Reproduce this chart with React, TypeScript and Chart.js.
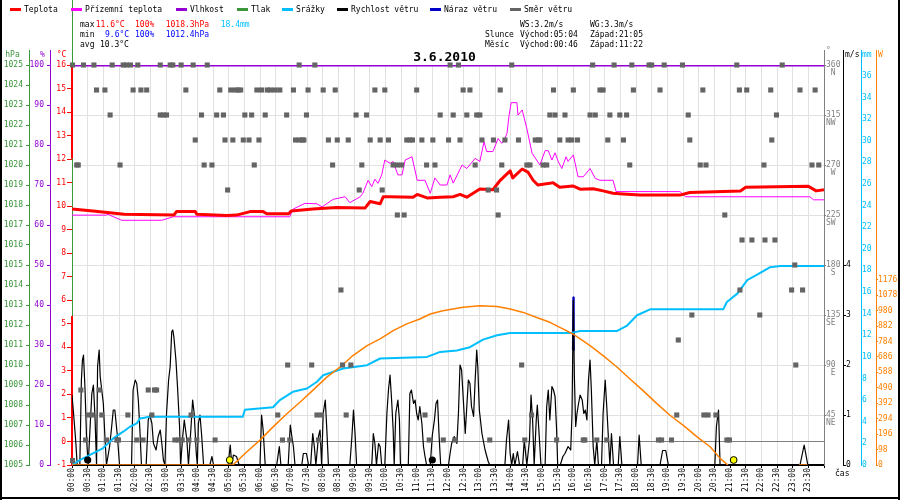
import React, { useEffect, useRef } from 'react';
import { Chart, registerables } from 'chart.js';

Chart.register(...registerables);

const FONT = '"DejaVu Sans Mono", monospace';
const RED = '#ff0000';
const MAGENTA = '#ff00ff';
const PURPLE = '#9400d3';
const GREEN = '#3c963c';
const SKY = '#00bfff';
const NAVY = '#0000c8';
const SQUARE = '#646464';
const AXISGRAY = '#808080';
const ORANGE = '#ff8000';
const MINBLUE = '#0000ff';
const GRID = '#e1e1e1';

// ---------- tick labels / categories ----------
const timeLabels = ['00:00','00:30','01:00','01:30','02:00','02:30','03:00','03:30','04:00','04:30','05:00','05:30','06:00','06:30','07:00','07:30','08:00','08:30','09:00','09:30','10:00','10:30','11:00','11:30','12:00','12:30','13:00','13:30','14:00','14:30','15:00','15:30','16:00','16:30','17:00','17:30','18:00','18:30','19:00','19:30','20:00','20:30','21:00','21:30','22:00','22:30','23:00','23:30'];
const dayEnd = 1440;
const tempTicks = [-1,0,1,2,3,4,5,6,7,8,9,10,11,12,13,14,15,16];
const humidityTicks = [0,10,20,30,40,50,60,70,80,90,100];
const pressureTicks = [1005,1006,1007,1008,1009,1010,1011,1012,1013,1014,1015,1016,1017,1018,1019,1020,1021,1022,1023,1024,1025];
const directionTicks = [45,90,135,180,225,270,315,360];
const directionNames = ['NE','E','SE','S','SW','W','NW','N'];
const speedTicks = [0,1,2,3,4];
const rainTicks = [0,2,4,6,8,10,12,14,16,18,20,22,24,26,28,30,32,34,36];
const solarTicks = [0,98,196,294,392,490,588,686,784,882,980,1078,1176];

const legendLabels = ['Teplota','Přízemní teplota','Vlhkost','Tlak','Srážky','Rychlost větru','Náraz větru','Směr větru'];
const chartTitle = '3.6.2010';
const statsMax = ['11.6°C','100%','1018.3hPa','18.4mm'];
const statsMin = ['9.6°C','100%','1012.4hPa'];
const statsAvg = '10.3°C';
const windInfo = ['WS:3.2m/s','WG:3.3m/s'];
const sunInfo = ['Východ:05:04','Západ:21:05'];
const moonInfo = ['Východ:00:46','Západ:11:22'];

// ---------- series (minute of day, value) ----------
const temperature = [[0,9.88],[40,9.8],[100,9.66],[195,9.62],[200,9.77],[236,9.77],[239,9.66],[296,9.6],[315,9.62],[341,9.77],[366,9.77],[373,9.68],[415,9.68],[420,9.8],[461,9.88],[507,9.94],[561,9.92],[571,10.2],[590,10.1],[596,10.4],[609,10.4],[653,10.38],[661,10.5],[680,10.35],[705,10.38],[730,10.4],[743,10.5],[756,10.38],[781,10.73],[806,10.7],[820,11.1],[839,11.5],[844,11.2],[862,11.58],[873,11.45],[883,11.1],[892,10.9],[915,10.97],[921,11.0],[934,10.8],[959,10.86],[973,10.72],[998,10.74],[1017,10.65],[1036,10.55],[1055,10.52],[1088,10.48],[1164,10.47],[1183,10.58],[1280,10.65],[1290,10.8],[1410,10.85],[1425,10.65],[1440,10.7]];

const apparentTemp = [[0,9.62],[66,9.62],[69,9.66],[72,9.62],[95,9.4],[172,9.4],[194,9.55],[417,9.55],[423,9.87],[446,10.12],[469,10.1],[479,9.97],[500,10.29],[523,10.4],[532,10.15],[552,10.4],[557,10.55],[567,11.1],[574,10.83],[580,11.15],[586,10.97],[593,11.33],[599,11.96],[609,11.82],[615,11.9],[624,11.33],[632,11.33],[638,11.96],[651,12.1],[661,11.1],[676,11.1],[686,10.55],[695,11.2],[705,10.9],[718,10.9],[724,11.33],[730,10.98],[747,11.75],[756,11.6],[772,12.03],[781,11.9],[789,12.74],[794,12.32],[806,12.32],[816,12.88],[823,12.67],[829,12.88],[833,13.1],[837,13.87],[841,14.4],[852,14.4],[854,13.87],[862,14.09],[871,13.3],[881,12.25],[896,11.75],[906,12.36],[912,12.36],[919,11.96],[925,12.27],[931,11.9],[938,11.6],[946,12.1],[950,11.9],[960,12.18],[969,11.25],[979,11.25],[992,11.6],[1002,11.18],[1011,11.1],[1036,11.1],[1042,10.62],[1164,10.62],[1175,10.4],[1413,10.4],[1420,10.27],[1440,10.27]];

const humidity = [[0,100],[360,100],[720,100],[1080,100],[1440,100]];

const rainfall = [[0,0],[15,0.46],[40,1.08],[59,1.54],[79,2.46],[98,3.08],[111,3.54],[124,3.85],[130,4.3],[149,4.46],[327,4.46],[331,5.1],[385,5.34],[398,6.0],[423,6.77],[450,7.08],[469,7.7],[481,8.3],[519,8.93],[565,9.23],[590,9.85],[680,10.0],[705,10.46],[737,10.6],[762,10.9],[787,11.6],[814,12.0],[839,12.2],[954,12.2],[973,12.4],[1044,12.4],[1063,12.9],[1082,13.85],[1107,14.4],[1247,14.4],[1254,15.08],[1274,15.85],[1293,17.1],[1312,17.6],[1337,18.3],[1356,18.4],[1440,18.4]];

const solar = [[0,0],[308,0],[335,84],[360,158],[385,242],[412,327],[437,400],[461,474],[488,558],[513,621],[538,695],[565,758],[590,801],[615,853],[641,896],[666,927],[686,959],[710,980],[749,1001],[781,1011],[814,1007],[839,990],[864,969],[890,937],[915,906],[940,864],[959,832],[992,758],[1017,695],[1044,621],[1068,548],[1093,474],[1120,390],[1145,316],[1170,253],[1197,179],[1222,116],[1241,42],[1256,0],[1300,null],[1392,0],[1408,0]];

const windSpeed = [[0,1.4],[3,1.03],[7,0.5],[10,0],[15,0],[18,1.7],[20,2.1],[22,2.2],[25,1.5],[28,0.5],[31,0],[35,0.83],[38,1.43],[41,1.6],[44,0.97],[47,0],[49,1.97],[52,2.3],[54,1.77],[57,1.5],[60,1.23],[63,0.57],[66,0],[72,0.37],[76,0.77],[79,1.1],[82,1.1],[87,0.57],[91,0],[114,0],[117,1.5],[121,1.7],[124,1.63],[127,1.3],[130,0.7],[133,0],[142,0],[146,0.9],[149,1.0],[153,0.83],[156,0.43],[161,0.3],[165,0.57],[169,0.7],[172,0.43],[175,0.1],[178,0],[181,1.03],[185,1.7],[188,1.97],[191,2.67],[193,2.7],[195,2.57],[199,2.1],[202,1.57],[206,0.77],[208,0],[212,0.57],[215,0.9],[220,0.5],[223,0],[228,0.77],[231,1.3],[234,1.03],[238,0.23],[240,0],[242,0.83],[245,1.0],[248,0.63],[252,0],[264,0],[268,0.17],[271,0],[299,0],[303,0.4],[306,0],[309,0.2],[315,0.17],[320,0],[360,0],[363,1.0],[366,0.7],[370,0],[392,0],[397,0.37],[400,0],[414,0],[418,0.8],[421,0.57],[424,0.37],[427,0],[440,0],[443,0.23],[449,0.23],[453,0],[457,0],[461,0.63],[464,0.37],[467,0],[472,0.57],[475,0.7],[478,0],[481,1.03],[485,1.3],[488,0.7],[491,0],[532,0],[536,0.57],[539,1.1],[542,0.63],[545,0],[574,0],[577,0.63],[580,0.43],[583,0],[587,0.43],[590,0.37],[593,0],[599,0],[603,1.03],[606,1.5],[609,1.8],[612,1.3],[615,0.7],[617,0],[620,1.03],[624,1.3],[627,0.9],[629,0],[644,0],[647,1.43],[650,1.5],[654,1.23],[657,1.3],[660,1.03],[663,0.9],[666,1.17],[670,0.83],[673,0.37],[676,0.17],[679,0],[686,0],[690,0.6],[694,0.9],[697,1.23],[700,1.3],[703,0.57],[706,0],[721,0],[724,0.23],[727,0.43],[732,0.57],[737,0.43],[740,1.03],[743,2.0],[746,1.9],[749,1.37],[753,0.63],[756,1.17],[759,1.7],[762,1.63],[765,1.17],[769,0.97],[772,1.7],[775,2.3],[777,1.97],[780,1.1],[785,0.63],[791,0.3],[797,0.07],[800,0],[829,0],[832,0.5],[836,0.9],[839,0.23],[842,0],[845,0.23],[848,0],[853,0.27],[857,0],[863,0],[866,0.5],[871,0],[876,0.5],[879,1.4],[882,0.9],[885,0],[889,0.9],[891,1.2],[894,0.7],[898,0],[906,0],[909,1.17],[912,1.5],[915,0.9],[919,1.57],[922,1.5],[925,1.37],[928,0.7],[930,0],[935,0],[940,0.17],[944,0.23],[950,0.37],[955,0.3],[957.5,1.03],[960,3.3],[962,1.77],[964.5,0.77],[967,1.03],[970,1.23],[973,1.4],[977,1.3],[980,1.03],[983,1.1],[986,0.9],[989,1.7],[992,2.1],[994.5,1.5],[998,0.37],[1001,0],[1005,0.5],[1008,0],[1014,0],[1017,1.03],[1021,1.7],[1024,1.17],[1027,0.57],[1030,0],[1033,0.63],[1037,0],[1046,0],[1049,0.57],[1053,0],[1083,0],[1086,0.6],[1090,0],[1126,0],[1131,0.29],[1137,0.29],[1142,0],[1231,0],[1234,0.77],[1238,1.1],[1241,0],[1394,0],[1402,0.4],[1409,0],[1440,0]];

const windGust = [[959.2,2.3],[960,3.35],[960.8,2.3]];

// wind direction: [degrees, minutes at which that direction was recorded]
const directionRows = [
  [360, [1,22,42,77,98,104,112,126,169,188,193,209,232,259,435,465,724,740,842,997,1038,1072,1105,1110,1134,1169,1273,1360]],
  [337.5, [47,63,117,132,143,218,283,304,313,318,323,354,363,374,380,389,398,424,452,481,504,580,599,660,749,762,820,922,960,1011,1017,1075,1126,1208,1278,1292,1338,1394,1423]],
  [315, [73,169,175,181,248,277,290,331,344,370,411,449,544,564,705,730,756,775,781,915,925,944,992,1002,1030,1049,1062,1180,1349]],
  [292.5, [236,293,308,328,339,358,428,435,441,444,491,508,529,571,590,606,641,647,652,670,691,721,743,785,807,829,855,887,893,896,934,950,957,968,1026,1056,1183,1340]],
  [270, [9,12,92,253,268,349,499,555,615,622,631,679,695,772,823,871,877,902,909,1068,1203,1214,1325,1417,1430]],
  [247.5, [298,550,594,797,813]],
  [225, [623,636,816,1250]],
  [202.5, [1283,1302,1327,1346]],
  [180, [1384]],
  [157.5, [515,1279,1378,1399]],
  [135, [1187,1317]],
  [112.5, [1161]],
  [90, [413,459,518,534,861,1386]],
  [67.5, [17,52,146,158,162]],
  [45, [31,38,57,107,153,228,394,469,478,525,676,880,1158,1210,1218,1233]],
  [22.5, [26,66,86,89,124,136,197,204,211,224,239,274,403,417,472,684,711,733,800,867,928,979,982,1005,1024,1123,1129,1148,1254,1259]],
  [4, [1]],
];

const sunEvents = [302, 1267];
const moonEvents = [30, 690];
const tempEdge = [[0,16],[0,12.05],[0,null],[0,5.3],[0,-1]];

// ---------- helpers ----------
const xy = (pts: any[]) => pts.map(([x, y]: any) => ({ x, y }));
const toMinutes = (s: string) => Number(s.slice(0, 2)) * 60 + Number(s.slice(3));
const tickFont = { family: FONT, size: 8 };
const setTicks = (vals: number[]) => (s: any) => { s.ticks = vals.map((v) => ({ value: v })); };
const fixWidth = (w: number) => (s: any) => { s.width = w; };

const decor = {
  id: 'decor',
  afterDraw(chart: any) {
    const { ctx, chartArea: ca, scales } = chart;
    const ap = (p: number) => Math.round(p - 0.5) + 0.5;
    ctx.save();
    const vline = (x: number, y0: number, y1: number, c: string) => {
      ctx.strokeStyle = c; ctx.lineWidth = 1; ctx.beginPath(); ctx.moveTo(x, y0); ctx.lineTo(x, y1); ctx.stroke();
    };
    vline(ap(scales.yP.right), 50, ca.top, GREEN);
    vline(ap(scales.yH.right), 50, ca.top, PURPLE);
    vline(ap(scales.yT.right), 0, ca.top, GREEN);
    vline(ap(scales.yD.left), 50, ca.top, AXISGRAY);
    vline(ap(scales.yW.left), 50, ca.top, '#000');
    vline(ap(scales.yM.left), 50, ca.top, SKY);
    vline(ap(scales.yS.left), 50, ca.top, ORANGE);

    const txt = (s: string, x: number, y: number, c: string, align = 'left', font = `8px ${FONT}`) => {
      ctx.font = font; ctx.fillStyle = c; ctx.textAlign = align; ctx.textBaseline = 'middle'; ctx.fillText(s, x, y);
    };
    // legend
    const legendX = [10, 71, 176, 237, 282, 337, 430, 510];
    const legendColors = [RED, MAGENTA, PURPLE, GREEN, SKY, '#000', NAVY, SQUARE];
    legendLabels.forEach((l, i) => {
      ctx.fillStyle = legendColors[i];
      ctx.fillRect(legendX[i], 8, 11, 3);
      txt(l, legendX[i] + 14, 9.5, '#000');
    });
    // stats
    txt('max', 80, 24.5, '#000');
    [95.7, 135, 165.7, 220.7].forEach((x, i) => txt(statsMax[i], x, 24.5, i === 3 ? SKY : RED));
    txt('min', 80, 34.5, '#000');
    [105, 135, 165.7].forEach((x, i) => txt(statsMin[i], x, 34.5, MINBLUE));
    txt('avg', 80, 44.5, '#000');
    txt(statsAvg, 100, 44.5, '#000');
    txt(windInfo[0], 520, 24.5, '#000');
    txt(windInfo[1], 590, 24.5, '#000');
    txt('Slunce', 485, 34.5, '#000');
    txt(sunInfo[0], 520, 34.5, '#000');
    txt(sunInfo[1], 590, 34.5, '#000');
    txt('Měsíc', 485, 44.5, '#000');
    txt(moonInfo[0], 520, 44.5, '#000');
    txt(moonInfo[1], 590, 44.5, '#000');
    // title
    txt(chartTitle, 444.5, 57.5, '#000', 'center', `bold 13px ${FONT}`);
    // axis titles
    txt('hPa', 12.5, 54.5, GREEN, 'center');
    txt('%', 42.5, 54.5, PURPLE, 'center');
    txt('°C', 61.5, 54.5, RED, 'center');
    txt('°', 826, 51, AXISGRAY);
    txt('m/s', 845, 54.5, '#000');
    txt('mm', 862, 54.5, SKY);
    txt('W', 878, 54.5, ORANGE);
    txt('čas', 835, 474, '#000');
    // frame
    ctx.fillStyle = '#000';
    ctx.fillRect(0, 0, 2, 500);
    ctx.fillRect(898, 0, 2, 500);
    ctx.fillRect(0, 497, 900, 2);
    ctx.restore();
  },
};

const directionPoints = directionRows.flatMap(([deg, times]: any) => times.map((t: number) => ({ x: t, y: deg })));

export default function App() {
  const ref = useRef<HTMLCanvasElement>(null);
  useEffect(() => {
    document.body.style.margin = '0';
    const line = { pointRadius: 0, tension: 0, fill: false, borderJoinStyle: 'round' };
    const chart = new Chart(ref.current as HTMLCanvasElement, {
      type: 'line',
      data: {
        datasets: [
          { type: 'scatter', label: 'Měsíc', data: moonEvents.map((x) => ({ x, y: 0.1 })), yAxisID: 'yW', pointRadius: 3.6, backgroundColor: '#000', borderColor: '#000', borderWidth: 0, clip: false },
          { type: 'scatter', label: 'Slunce', data: sunEvents.map((x) => ({ x, y: 0.1 })), yAxisID: 'yW', pointRadius: 3.4, backgroundColor: '#ffff00', borderColor: '#000', borderWidth: 1, clip: false },
          { type: 'scatter', label: 'Směr větru', data: directionPoints, yAxisID: 'yD', pointStyle: 'rect', pointRadius: 3.6, backgroundColor: SQUARE, borderColor: SQUARE, borderWidth: 0, clip: false },
          { ...line, label: 'Teplota', data: xy(temperature), yAxisID: 'yT', borderColor: RED, borderWidth: 3 },
          { ...line, label: 'Přízemní teplota', data: xy(apparentTemp), yAxisID: 'yT', borderColor: MAGENTA, borderWidth: 1 },
          { ...line, label: 'Vlhkost', data: xy(humidity), yAxisID: 'yH', borderColor: PURPLE, borderWidth: 3 },
          { ...line, label: 'Sluneční záření', data: xy(solar), yAxisID: 'yS', borderColor: ORANGE, borderWidth: 1.5 },
          { ...line, label: 'Srážky', data: xy(rainfall), yAxisID: 'yM', borderColor: SKY, borderWidth: 2 },
          { ...line, label: 'Rychlost větru', data: xy(windSpeed), yAxisID: 'yW', borderColor: '#000', borderWidth: 1.2 },
          { ...line, label: 'Náraz větru', data: xy(windGust), yAxisID: 'yW', borderColor: NAVY, borderWidth: 2 },
          { ...line, label: 'edge', data: xy(tempEdge), yAxisID: 'yT', borderColor: RED, borderWidth: 2, clip: false },
        ],
      },
      options: {
        responsive: false,
        animation: false,
        events: [],
        layout: { padding: { top: 65, left: 0, right: 0, bottom: 0 } },
        plugins: { legend: { display: false }, tooltip: { enabled: false }, title: { display: false } },
        scales: {
          x: {
            type: 'linear', position: 'bottom', min: 0, max: dayEnd,
            afterBuildTicks: setTicks([...timeLabels.map(toMinutes), dayEnd]),
            afterFit: (s: any) => { s.height = 35; },
            ticks: { autoSkip: false, minRotation: 90, maxRotation: 90, padding: 0, color: '#000', font: tickFont, callback: (_v: any, i: number) => timeLabels[i] ?? '' },
            grid: { color: GRID, tickColor: '#000', tickLength: 3, lineWidth: 1 },
            border: { color: '#000', width: 2 },
          },
          yT: {
            type: 'linear', position: 'left', weight: 0, min: -1, max: 16,
            afterBuildTicks: setTicks(tempTicks), afterFit: fixWidth(22),
            ticks: { autoSkip: false, color: RED, font: tickFont, padding: 1, callback: (v: any) => String(v) },
            grid: { drawOnChartArea: true, color: (c: any) => (c.tick && c.tick.value === 0 ? '#808080' : 'rgba(0,0,0,0)'), tickColor: RED, tickLength: 5 },
            border: { color: GREEN, width: 1 },
          },
          yH: {
            type: 'linear', position: 'left', weight: 1, min: 0, max: 100,
            afterBuildTicks: setTicks(humidityTicks), afterFit: fixWidth(21),
            ticks: { autoSkip: false, color: PURPLE, font: tickFont, padding: 3, callback: (v: any) => String(v) },
            grid: { drawOnChartArea: false, tickColor: PURPLE, tickLength: 3 },
            border: { color: PURPLE, width: 1 },
          },
          yP: {
            type: 'linear', position: 'left', weight: 2, min: 1005, max: 1025,
            afterBuildTicks: setTicks(pressureTicks), afterFit: fixWidth(29),
            ticks: { autoSkip: false, color: GREEN, font: tickFont, padding: 3, callback: (v: any) => String(v) },
            grid: { drawOnChartArea: false, tickColor: GREEN, tickLength: 3 },
            border: { color: GREEN, width: 1 },
          },
          yD: {
            type: 'linear', position: 'right', weight: 0, min: 0, max: 360,
            afterBuildTicks: setTicks(directionTicks), afterFit: fixWidth(19),
            ticks: {
              autoSkip: false, color: AXISGRAY, font: { family: FONT, size: 8, lineHeight: 1.05 }, padding: 0, labelOffset: 4.2,
              callback: (v: any, i: number) => [String(v), directionNames[i].length === 1 ? ' ' + directionNames[i] : directionNames[i]],
            },
            grid: { drawOnChartArea: true, color: GRID, tickColor: AXISGRAY, tickLength: 2 },
            border: { color: AXISGRAY, width: 1 },
          },
          yW: {
            type: 'linear', position: 'right', weight: 1, min: 0, max: 8,
            afterBuildTicks: setTicks(speedTicks), afterFit: fixWidth(18),
            ticks: { autoSkip: false, color: '#000', font: tickFont, padding: 0, callback: (v: any) => String(v) },
            grid: { drawOnChartArea: false, tickColor: '#000', tickLength: 3 },
            border: { color: '#000', width: 1 },
          },
          yM: {
            type: 'linear', position: 'right', weight: 2, min: 0, max: 37,
            afterBuildTicks: setTicks(rainTicks), afterFit: fixWidth(15),
            ticks: { autoSkip: false, color: SKY, font: tickFont, padding: 0, callback: (v: any) => String(v) },
            grid: { drawOnChartArea: false, tickColor: SKY, tickLength: 1 },
            border: { color: SKY, width: 1 },
          },
          yS: {
            type: 'linear', position: 'right', weight: 3, min: 0, max: 2540,
            afterBuildTicks: setTicks(solarTicks), afterFit: fixWidth(24),
            ticks: { autoSkip: false, color: ORANGE, font: tickFont, padding: 0, callback: (v: any) => String(v) },
            grid: { drawOnChartArea: false, tickColor: ORANGE, tickLength: 2 },
            border: { color: ORANGE, width: 1 },
          },
        },
      },
      plugins: [decor],
    } as any);
    return () => chart.destroy();
  }, []);
  return (
    <div style={{ width: 900, height: 500, position: 'relative', background: '#fff' }}>
      <style>{'body{margin:0}'}</style>
      <canvas ref={ref} width={900} height={500} style={{ display: 'block' }} />
    </div>
  );
}
